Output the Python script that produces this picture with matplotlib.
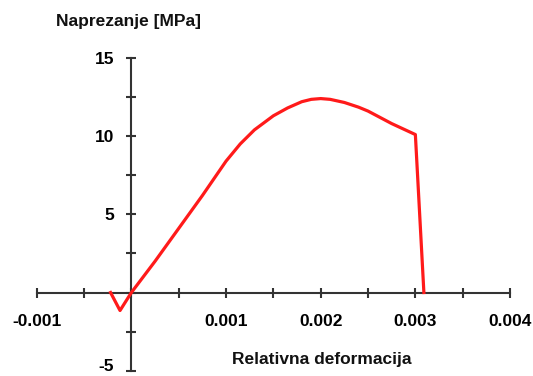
import matplotlib.pyplot as plt
import matplotlib.transforms as mtransforms
from matplotlib.ticker import MultipleLocator, FixedLocator, FixedFormatter

plt.rcParams['font.family'] = ['Liberation Sans', 'DejaVu Sans']
plt.rcParams['font.weight'] = 'bold'

# stress-strain curve
strain = [-0.00022, -0.00012, 0.0, 0.00025, 0.0005, 0.00075, 0.001, 0.00115,
          0.0013, 0.0015, 0.00165, 0.0018, 0.0019, 0.002, 0.0021, 0.00225,
          0.0024, 0.0025, 0.00275, 0.003, 0.00309]
stress = [0.0, -1.15, 0.0, 2.0, 4.1, 6.2, 8.4, 9.5,
          10.4, 11.3, 11.8, 12.2, 12.35, 12.4, 12.35, 12.15,
          11.85, 11.6, 10.8, 10.1, 0.0]

x_ticks = [-0.001, 0.001, 0.002, 0.003, 0.004]
x_labels = ['-0.001', '0.001', '0.002', '0.003', '0.004']
y_ticks = [-5, 5, 10, 15]
y_labels = ['-5', '5', '10', '15']

fig = plt.figure(figsize=(5.33, 3.76), dpi=100)
ax = fig.add_axes([0.0689, 0.014, 0.888, 0.832])

ax.plot(strain, stress, color='#ff1a1a', lw=2.3, solid_joinstyle='round', zorder=3)

ax.set_xlim(-0.001, 0.004)
ax.set_ylim(-5, 15)

for s in ['top', 'right']:
    ax.spines[s].set_visible(False)
ax.spines['left'].set_position(('data', 0))
ax.spines['bottom'].set_position(('data', 0))
for s in ['left', 'bottom']:
    ax.spines[s].set_color('#333333')
    ax.spines[s].set_linewidth(1.5)

ax.xaxis.set_major_locator(FixedLocator(x_ticks))
ax.xaxis.set_major_formatter(FixedFormatter(x_labels))
ax.xaxis.set_minor_locator(MultipleLocator(0.0005))
ax.yaxis.set_major_locator(FixedLocator(y_ticks))
ax.yaxis.set_major_formatter(FixedFormatter(y_labels))
ax.yaxis.set_minor_locator(MultipleLocator(2.5))

ax.tick_params(which='both', direction='inout', length=7, width=1.5, color='#333333')
ax.tick_params(axis='x', which='major', pad=12, labelsize=12.5)
ax.tick_params(axis='y', which='major', pad=9, labelsize=12.5)

# the lowest label sits right at the bottom edge; nudge it up a little
fig.canvas.draw()
lab = ax.get_yticklabels()[0]
lab.set_transform(lab.get_transform() +
                  mtransforms.ScaledTranslation(0, 4 / 72, fig.dpi_scale_trans))

fig.text(0.105, 0.944, 'Naprezanje [MPa]', fontsize=12.5, fontweight='bold',
         ha='left', va='center', color='#111111')
fig.text(0.604, 0.043, 'Relativna deformacija', fontsize=12.5, fontweight='bold',
         ha='center', va='center', color='#111111')

fig.savefig('out.png', dpi=100)
